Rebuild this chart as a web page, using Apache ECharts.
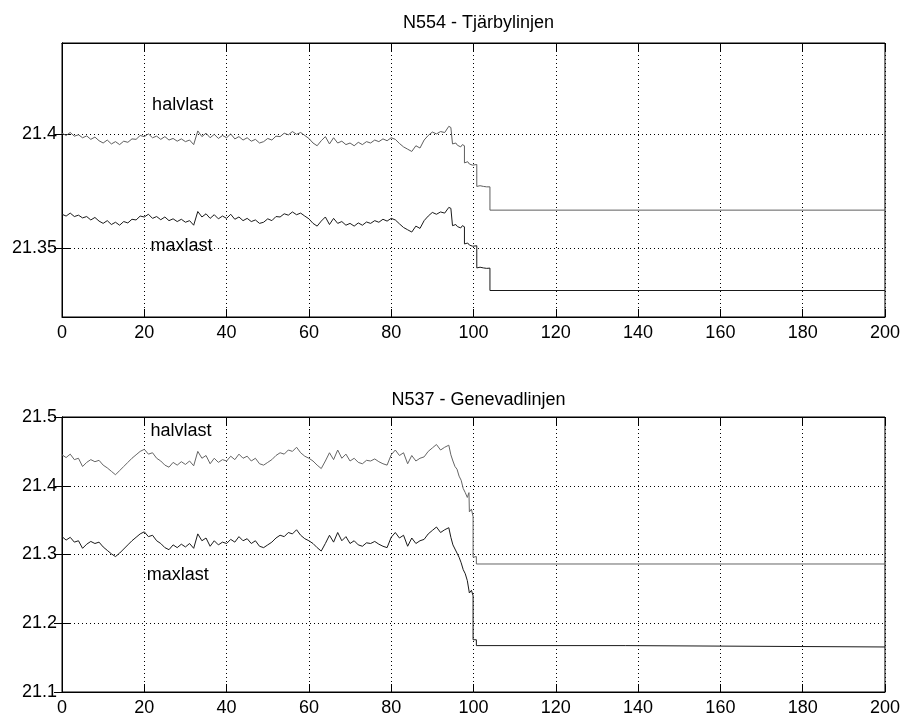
<!DOCTYPE html>
<html>
<head>
    <meta charset="utf-8">
    <title>N554 / N537</title>
    <script src="https://cdn.jsdelivr.net/npm/echarts@6/dist/echarts.min.js"></script>
    <style>
        html, body { margin: 0; padding: 0; background: #fff; }
        #main { width: 903px; height: 717px; }
    </style>
</head>
<body>
<div id="main"></div>
<script type="text/javascript">
    // sample times 0..94 (step 1) for the noisy part
    var t = Array.from({length: 95}, function (_, i) { return i; });

    // N554 - Tjärbylinjen
    var h1 = [21.4005, 21.3995, 21.4008, 21.3992, 21.3998,
        21.3985, 21.3993, 21.3978, 21.3988, 21.3972,
        21.3962, 21.3975, 21.3958, 21.3968, 21.3955,
        21.3970, 21.3965, 21.3980, 21.3978, 21.3995,
        21.3990, 21.4002, 21.3985, 21.3992, 21.3978,
        21.3990, 21.3975, 21.3982, 21.3970, 21.3980,
        21.3968, 21.3975, 21.3955,
        21.4015, 21.3990, 21.4005, 21.3985, 21.4000, 21.3982, 21.3995,
        21.3985, 21.4002, 21.3980, 21.3990, 21.3975,
        21.3985, 21.3970, 21.3978, 21.3962, 21.3968,
        21.3982, 21.3975, 21.3992, 21.3990, 21.4005,
        21.3998, 21.4012, 21.4000, 21.4008, 21.3995,
        21.3982, 21.3962, 21.3950, 21.3972, 21.3990,
        21.3958, 21.3985, 21.3962, 21.3970, 21.3955,
        21.3962, 21.3950, 21.3965, 21.3955, 21.3968,
        21.3962, 21.3975, 21.3968, 21.3980, 21.3972,
        21.3985, 21.3978, 21.3960, 21.3945, 21.3935,
        21.3925, 21.3950, 21.3940, 21.3975, 21.3995,
        21.4010, 21.4002, 21.4012, 21.4008, 21.4035];
    var m1 = [21.3650, 21.3642, 21.3655, 21.3640, 21.3646,
        21.3634, 21.3640, 21.3625, 21.3636, 21.3620,
        21.3610, 21.3622, 21.3605, 21.3615, 21.3602,
        21.3618, 21.3612, 21.3628, 21.3625, 21.3642,
        21.3638, 21.3650, 21.3632, 21.3640, 21.3626,
        21.3638, 21.3622, 21.3630, 21.3618, 21.3628,
        21.3615, 21.3622, 21.3602,
        21.3662, 21.3638, 21.3652, 21.3632, 21.3648, 21.3630, 21.3642,
        21.3632, 21.3650, 21.3628, 21.3638, 21.3622,
        21.3632, 21.3618, 21.3625, 21.3610, 21.3615,
        21.3630, 21.3622, 21.3640, 21.3638, 21.3652,
        21.3646, 21.3660, 21.3648, 21.3655, 21.3642,
        21.3630, 21.3610, 21.3598, 21.3620, 21.3638,
        21.3605, 21.3632, 21.3610, 21.3618, 21.3602,
        21.3610, 21.3598, 21.3612, 21.3602, 21.3616,
        21.3610, 21.3622, 21.3615, 21.3628, 21.3620,
        21.3632, 21.3625, 21.3608, 21.3592, 21.3582,
        21.3572, 21.3598, 21.3588, 21.3622, 21.3642,
        21.3658, 21.3650, 21.3660, 21.3655, 21.3680];
    var tail1T = [94.5, 94.9, 94.9, 95.3, 95.7, 96.1, 96.5, 96.9, 97.3, 97.8, 97.8, 98.2, 98.6, 99.0, 99.4,
        99.8, 100.2, 100.8, 100.8, 101.2, 101.6, 102.0, 102.4, 102.8, 103.2, 103.6, 104.0, 104.0, 200];
    var h1Tail = [21.4030, 21.4038, 21.3958, 21.3950, 21.3962, 21.3952, 21.3958, 21.3945, 21.3955, 21.3950,
        21.3875, 21.3868, 21.3880, 21.3870, 21.3878, 21.3865, 21.3872, 21.3868, 21.3772, 21.3765,
        21.3775, 21.3768, 21.3772, 21.3764, 21.3770, 21.3766, 21.3770, 21.3668, 21.3668];
    var m1Tail = [21.3676, 21.3684, 21.3600, 21.3594, 21.3605, 21.3596, 21.3602, 21.3590, 21.3600, 21.3595,
        21.3520, 21.3512, 21.3524, 21.3515, 21.3522, 21.3510, 21.3518, 21.3512, 21.3415, 21.3408,
        21.3418, 21.3410, 21.3415, 21.3407, 21.3413, 21.3409, 21.3414, 21.3316, 21.3316];

    // N537 - Genevadlinjen
    var h2 = [21.445, 21.441, 21.446, 21.438, 21.440,
        21.428, 21.434, 21.438, 21.435, 21.437,
        21.430, 21.426, 21.421, 21.416, 21.422,
        21.428, 21.434, 21.440, 21.445, 21.450,
        21.453, 21.446, 21.448, 21.440, 21.436,
        21.430, 21.427, 21.434, 21.430, 21.435,
        21.431, 21.436, 21.429, 21.450, 21.440,
        21.444, 21.432, 21.440, 21.434, 21.438,
        21.436, 21.443, 21.438, 21.446, 21.440,
        21.443, 21.436, 21.440, 21.432, 21.430,
        21.434, 21.438, 21.444, 21.448, 21.446,
        21.452, 21.450, 21.456, 21.448, 21.443,
        21.440, 21.436, 21.430, 21.425, 21.436,
        21.448, 21.438, 21.452, 21.440, 21.446,
        21.436, 21.440, 21.434, 21.432, 21.437,
        21.436, 21.439, 21.435, 21.432, 21.430,
        21.445, 21.452, 21.444, 21.448, 21.432,
        21.444, 21.436, 21.440, 21.442, 21.450,
        21.455, 21.460, 21.452, 21.456, 21.459];
    var m2 = [21.326, 21.321, 21.325, 21.318, 21.320,
        21.309, 21.315, 21.319, 21.316, 21.318,
        21.311, 21.306, 21.301, 21.297, 21.302,
        21.308, 21.314, 21.320, 21.325, 21.330,
        21.333, 21.326, 21.328, 21.320, 21.316,
        21.310, 21.307, 21.314, 21.310, 21.315,
        21.311, 21.316, 21.309, 21.330, 21.320,
        21.324, 21.312, 21.320, 21.314, 21.318,
        21.316, 21.322, 21.318, 21.326, 21.320,
        21.323, 21.316, 21.320, 21.312, 21.310,
        21.314, 21.318, 21.324, 21.328, 21.326,
        21.332, 21.330, 21.336, 21.328, 21.323,
        21.320, 21.316, 21.310, 21.305, 21.316,
        21.328, 21.318, 21.332, 21.320, 21.326,
        21.316, 21.320, 21.314, 21.312, 21.317,
        21.316, 21.319, 21.315, 21.312, 21.310,
        21.325, 21.332, 21.324, 21.328, 21.312,
        21.324, 21.316, 21.320, 21.322, 21.330,
        21.335, 21.340, 21.332, 21.336, 21.339];
    var tail2T = [94.5, 95, 95.5, 96, 96.5, 97, 97.5, 98, 98.5, 98.9, 99.0, 99.5, 99.9, 99.9, 100.3, 100.7, 100.7, 200];
    var h2Tail = [21.445, 21.436, 21.428, 21.424, 21.414, 21.408, 21.396, 21.390, 21.383, 21.390, 21.362, 21.366,
        21.355, 21.296, 21.297, 21.297, 21.2862, 21.2862];
    var tail2mT = [94.5, 95, 95.5, 96, 96.5, 97, 97.5, 98, 98.5, 98.9, 99.0, 99.5, 99.9, 99.9, 100.3, 100.7, 100.7, 137, 137, 200];
    var m2Tail = [21.325, 21.314, 21.308, 21.302, 21.296, 21.288, 21.278, 21.272, 21.262, 21.262, 21.244, 21.248,
        21.240, 21.176, 21.177, 21.176, 21.1675, 21.1675, 21.1655, 21.1655];

    // axis ticks
    var xTicks = [0, 20, 40, 60, 80, 100, 120, 140, 160, 180, 200];
    var yTicks1 = [21.35, 21.4];
    var yTicks2 = [21.1, 21.2, 21.3, 21.4, 21.5];

    // text labels [x, y, text]
    var labels1 = [[21.9, 21.413, 'halvlast'], [21.5, 21.351, 'maxlast']];
    var labels2 = [[21.5, 21.480, 'halvlast'], [20.6, 21.270, 'maxlast']];

    function pairs(ts, vs, tt, tv) {
        var out = [];
        for (var i = 0; i < ts.length; i++) out.push([ts[i], vs[i]]);
        for (var j = 0; j < tt.length; j++) out.push([tt[j], tv[j]]);
        return out;
    }

    var font = 'Liberation Sans, Arial, Helvetica, sans-serif';
    var fs = 18;

    function xAxes(gi) {
        return [{
            type: 'value', gridIndex: gi, position: 'bottom', min: 0, max: 200, interval: 20,
            axisLine: {show: true, lineStyle: {color: '#000', width: 1}},
            axisTick: {show: true, inside: true, length: 8, lineStyle: {color: '#000'}},
            axisLabel: {show: true, color: '#000', fontFamily: font, fontSize: fs, margin: 7},
            splitLine: {show: true, lineStyle: {color: '#000', width: 1, type: [1, 3]}}
        }, {
            type: 'value', gridIndex: gi, position: 'top', min: 0, max: 200, interval: 20,
            axisLine: {show: true, lineStyle: {color: '#000', width: 1}},
            axisTick: {show: true, inside: true, length: 8, lineStyle: {color: '#000'}},
            axisLabel: {show: false},
            splitLine: {show: false}
        }];
    }

    function yAxes(gi, min, max, ticks) {
        return [{
            type: 'value', gridIndex: gi, position: 'left', min: min, max: max,
            axisLine: {show: true, lineStyle: {color: '#000', width: 1}},
            axisTick: {show: true, inside: true, length: 8, customValues: ticks, lineStyle: {color: '#000'}},
            axisLabel: {show: true, color: '#000', fontFamily: font, fontSize: fs, margin: 5, customValues: ticks},
            splitLine: {show: true, lineStyle: {color: '#000', width: 1, type: [1, 3]}}
        }, {
            type: 'value', gridIndex: gi, position: 'right', min: min, max: max,
            axisLine: {show: true, lineStyle: {color: '#000', width: 1}},
            axisTick: {show: true, inside: true, length: 8, customValues: ticks, lineStyle: {color: '#000'}},
            axisLabel: {show: false},
            splitLine: {show: false}
        }];
    }

    function lineSeries(xi, yi, data, color) {
        return {
            type: 'line', xAxisIndex: xi, yAxisIndex: yi, data: data,
            showSymbol: false, symbol: 'none', animation: false, silent: true,
            lineStyle: {color: color, width: 1}
        };
    }

    function textSeries(xi, yi, items) {
        return {
            type: 'scatter', xAxisIndex: xi, yAxisIndex: yi, symbolSize: 0, silent: true, animation: false,
            itemStyle: {opacity: 1},
            data: items.map(function (d) { return {value: [d[0], d[1]], name: d[2]}; }),
            label: {
                show: true, position: 'right', distance: 0, color: '#000', opacity: 1,
                fontFamily: font, fontSize: fs, formatter: '{b}'
            }
        };
    }

    var myChart = echarts.init(document.getElementById('main'), null, {renderer: 'canvas'});
    var option = {
        backgroundColor: '#fff',
        animation: false,
        title: [{
            text: 'N554 - Tjärbylinjen', left: 473.5, top: 9, textAlign: 'center',
            textStyle: {color: '#000', fontFamily: font, fontSize: fs, fontWeight: 'normal'}
        }, {
            text: 'N537 - Genevadlinjen', left: 473.5, top: 386, textAlign: 'center',
            textStyle: {color: '#000', fontFamily: font, fontSize: fs, fontWeight: 'normal'}
        }],
        grid: [
            {left: 62, right: 18, top: 43, height: 274, show: true, borderColor: '#000', borderWidth: 1},
            {left: 62, right: 18, top: 417, height: 275, show: true, borderColor: '#000', borderWidth: 1}
        ],
        xAxis: xAxes(0).concat(xAxes(1)),
        yAxis: yAxes(0, 21.32, 21.44, yTicks1).concat(yAxes(1, 21.1, 21.5, yTicks2)),
        series: [
            lineSeries(0, 0, pairs(t, h1, tail1T, h1Tail), '#5e5e5e'),
            lineSeries(0, 0, pairs(t, m1, tail1T, m1Tail), '#1a1a1a'),
            textSeries(0, 0, labels1),
            lineSeries(2, 2, pairs(t, h2, tail2T, h2Tail), '#666666'),
            lineSeries(2, 2, pairs(t, m2, tail2mT, m2Tail), '#1a1a1a'),
            textSeries(2, 2, labels2)
        ]
    };
    myChart.setOption(option);
</script>
</body>
</html>
